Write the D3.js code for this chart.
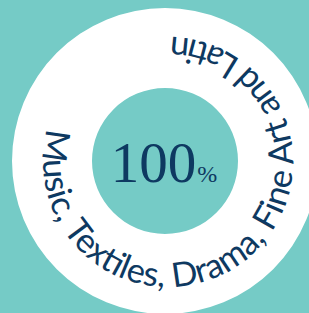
<!DOCTYPE html>
<html>
<head>
<meta charset="utf-8">
<script src="https://cdn.jsdelivr.net/npm/d3@7"></script>
<style>
  html, body { margin: 0; padding: 0; background: #75cbc6; }
  svg { display: block; }
</style>
</head>
<body>
<svg id="chart" width="309" height="313"></svg>
<script>
// ---- data ----
const values = [100];
const valueLabels = ["100"];
const unitLabels = ["%"];
const categories = ["Music, Textiles, Drama, Fine Art and Latin"];

// ---- layout ----
const W = 309, H = 313;
const cx = 165, cy = 161;
const innerR = 73, outerR = 153;
const teal = "#75cbc6", navy = "#0e3961";

const svg = d3.select("#chart");
svg.append("rect").attr("width", W).attr("height", H).attr("fill", teal);

const g = svg.append("g").attr("transform", `translate(${cx},${cy})`);

const pie = d3.pie().sort(null)(values);
const arc = d3.arc().innerRadius(innerR).outerRadius(outerR);
g.selectAll("path.ring").data(pie).join("path")
  .attr("class", "ring")
  .attr("d", arc)
  .attr("fill", "#ffffff");

// centre value
const vt = g.append("text")
  .attr("text-anchor", "middle")
  .attr("x", -1)
  .attr("y", 21)
  .attr("fill", navy)
  .style("font-family", "'Liberation Serif', 'DejaVu Serif', serif");
vt.append("tspan").attr("font-size", 57).text(valueLabels[0]);
vt.append("tspan").attr("font-size", 24).attr("dx", 1).text(unitLabels[0]);

// text on circle (counter-clockwise, glyph tops pointing inward)
const tcx = 3, tcy = 1, tr = 125;
const a0 = Math.PI + 15.5 * Math.PI / 180;   // start angle (canvas convention)
const span = 284 * Math.PI / 180;
const p = d3.path();
p.moveTo(tcx + tr * Math.cos(a0), tcy + tr * Math.sin(a0));
p.arc(tcx, tcy, tr, a0, a0 - 2 * Math.PI + 0.01, true);
g.append("path").attr("id", "ringPath").attr("d", p.toString()).attr("fill", "none");

g.append("text")
  .attr("fill", navy)
  .attr("font-size", 34)
  .style("font-family", "Lato, 'Liberation Sans', sans-serif")
  .append("textPath")
  .attr("href", "#ringPath")
  .attr("startOffset", 0)
  .attr("textLength", span * tr)
  .attr("lengthAdjust", "spacingAndGlyphs")
  .text(categories[0]);
</script>
</body>
</html>
